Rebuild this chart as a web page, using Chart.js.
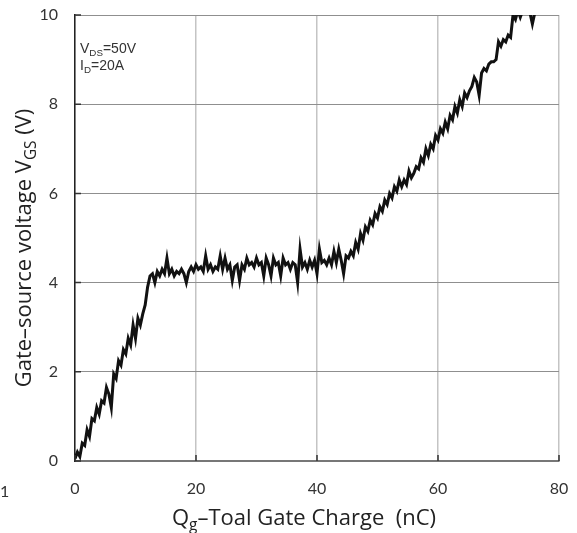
<!DOCTYPE html>
<html>
<head>
<meta charset="utf-8">
<script src="https://cdn.jsdelivr.net/npm/chart.js@4.4.1/dist/chart.umd.min.js"></script>
<style>
    body { margin: 0; background: #fff; }
    #wrap { width: 577px; height: 533px; }
</style>
</head>
<body>
<div id="wrap"><canvas id="chart" width="577" height="533"></canvas></div>
<script>
// gate charge (nC)
let qg = [
    0, 0.4, 0.8, 1.2, 1.6, 2.0, 2.4, 2.8, 3.2, 3.6, 4.0, 4.4, 4.8, 5.2, 5.6, 6.0, 6.4, 6.8, 7.2, 7.6,
    8.0, 8.4, 8.8, 9.2, 9.6, 10.0, 10.4, 10.8, 11.2, 11.6, 12.0, 12.4,
    12.8, 13.2, 13.6, 14.0, 14.4, 14.8, 15.2, 15.6, 16.0, 16.4, 16.8, 17.2, 17.6, 18.0, 18.4, 18.8,
    19.2, 19.6, 20.0, 20.4, 20.8, 21.2, 21.6, 22.0, 22.4, 22.8, 23.2, 23.6, 24.0, 24.4, 24.8, 25.2,
    25.6, 26.0, 26.4, 26.8, 27.2, 27.6, 28.0, 28.4, 28.8, 29.2, 29.6, 30.0, 30.4, 30.8, 31.2, 31.6,
    32.0, 32.4, 32.8, 33.2, 33.6, 34.0, 34.4, 34.8, 35.2, 35.6, 36.0, 36.4, 36.8, 37.2, 37.6, 38.0,
    38.4, 38.8, 39.2, 39.6, 40.0, 40.4, 40.8, 41.2, 41.6, 42.0, 42.4, 42.8, 43.2, 43.6, 44.0, 44.4,
    44.8, 45.2, 45.6, 46.0, 46.4, 46.8, 47.2, 47.6, 48.0, 48.4, 48.8, 49.2, 49.6, 50.0, 50.4, 50.8,
    51.2, 51.6, 52.0, 52.4, 52.8, 53.2, 53.6, 54.0, 54.4, 54.8, 55.2, 55.6, 56.0, 56.4, 56.8, 57.2,
    57.6, 58.0, 58.4, 58.8, 59.2, 59.6, 60.0, 60.4, 60.8, 61.2, 61.6, 62.0, 62.4, 62.8, 63.2, 63.6,
    64.0, 64.4, 64.8, 65.2, 65.6, 66.0, 66.4, 66.8, 67.2, 67.6, 68.0, 68.4, 68.8, 69.2, 69.6, 70.0,
    70.4, 70.8, 71.2, 71.6, 72.0, 72.4, 72.8, 73.2, 73.6, 74.0, 74.4, 74.8, 75.2, 75.6, 76.0
];
// gate-source voltage (V)
let vgs = [
    0.05, 0.2, 0.1, 0.4, 0.35, 0.7, 0.55, 0.95, 0.9, 1.2, 1.05, 1.35, 1.3, 1.65, 1.5, 1.2, 1.95, 1.85, 2.25, 2.15,
    2.5, 2.4, 2.75, 2.6, 3.05, 2.75, 3.2, 3.05, 3.3, 3.5, 3.9, 4.15,
    4.2, 4.0, 4.25, 4.15, 4.3, 4.2, 4.55, 4.2, 4.3, 4.15, 4.25, 4.2, 4.3, 4.2, 4.0, 4.25,
    4.35, 4.25, 4.4, 4.3, 4.35, 4.25, 4.6, 4.3, 4.4, 4.25, 4.35, 4.3, 4.6, 4.3, 4.55, 4.3,
    4.4, 4.05, 4.35, 4.4, 4.05, 4.4, 4.3, 4.55, 4.4, 4.45, 4.35, 4.55, 4.4, 4.45, 4.15, 4.55,
    4.4, 4.15, 4.55, 4.4, 4.45, 4.15, 4.55, 4.4, 4.45, 4.3, 4.45, 4.4, 4.0, 4.75, 4.35, 4.45,
    4.3, 4.5, 4.35, 4.5, 4.2, 4.75, 4.45, 4.5, 4.4, 4.55, 4.4, 4.7, 4.45, 4.75, 4.5, 4.2,
    4.6, 4.55, 4.7, 4.6, 4.9, 4.75, 5.1, 4.95, 5.25, 5.15, 5.4, 5.3, 5.55, 5.45, 5.7, 5.6,
    5.85, 5.75, 6.0, 5.9, 6.15, 6.05, 6.3, 6.15, 6.3, 6.2, 6.5, 6.35, 6.45, 6.6, 6.55, 6.8,
    6.7, 7.0, 6.85, 7.1, 7.0, 7.3, 7.2, 7.45, 7.35, 7.6, 7.45, 7.75, 7.65, 7.95, 7.8, 8.1,
    7.95, 8.25, 8.15, 8.3, 8.4, 8.6, 8.5, 8.2, 8.7, 8.8, 8.75, 8.9, 8.95, 8.95, 9.0, 9.4,
    9.3, 9.45, 9.4, 9.55, 9.5, 10.0, 9.9, 10.1, 9.95, 10.1, 10.05, 10.1, 10.05, 9.8, 10.05
];
let xTicks = [0, 20, 40, 60, 80];
let yTicks = [0, 2, 4, 6, 8, 10];

let points = qg.map(function(q, i) {
    return { x: q, y: vgs[i] };
});

let tickFont = { family: "Lato", size: 16 };
let titleFont = "Open Sans";
let titleSize = 22;

// width of a title made of normal and subscript pieces
let measureRich = function(ctx, parts, size, family) {
    let total = 0;
    parts.forEach(function(p) {
        ctx.font = (p.sub ? size * 0.7 : size) + "px " + family;
        total += ctx.measureText(p.t).width;
    });
    return total;
};

let drawRich = function(ctx, parts, x, y, size, family) {
    let cx = x;
    parts.forEach(function(p) {
        ctx.font = (p.sub ? size * 0.7 : size) + "px " + family;
        ctx.fillText(p.t, cx, p.sub ? y + size * 0.22 : y);
        cx += ctx.measureText(p.t).width;
    });
};

let labelsPlugin = {
    id: "labels",
    afterDraw: function(chart) {
        let ctx = chart.ctx;
        let area = chart.chartArea;
        let xs = chart.scales.x, ys = chart.scales.y;
        ctx.save();

        // short inner tick marks
        ctx.strokeStyle = "#333";
        ctx.lineWidth = 1.5;
        ctx.beginPath();
        yTicks.forEach(function(v) {
            let py = ys.getPixelForValue(v);
            ctx.moveTo(area.left, py);
            ctx.lineTo(area.left + 6, py);
        });
        xTicks.forEach(function(v) {
            let px = xs.getPixelForValue(v);
            ctx.moveTo(px, area.bottom);
            ctx.lineTo(px, area.bottom - 6);
        });
        ctx.stroke();

        ctx.fillStyle = "#222";
        ctx.textBaseline = "alphabetic";
        ctx.textAlign = "left";

        // x title
        let xParts = [{ t: "Q" }, { t: "g", sub: true }, { t: "\u2013Toal Gate Charge  (nC)" }];
        let w = measureRich(ctx, xParts, titleSize, titleFont);
        drawRich(ctx, xParts, 304 - w / 2, 525, titleSize, titleFont);

        // y title
        let yParts = [{ t: "Gate\u2013source voltage V" }, { t: "GS", sub: true }, { t: " (V)" }];
        let h = measureRich(ctx, yParts, titleSize, titleFont);
        ctx.translate(31, 248);
        ctx.rotate(-Math.PI / 2);
        drawRich(ctx, yParts, -h / 2, 0, titleSize, titleFont);
        ctx.setTransform(1, 0, 0, 1, 0, 0);

        // conditions
        ctx.fillStyle = "#333";
        drawRich(ctx, [{ t: "V" }, { t: "DS", sub: true }, { t: "=50V" }], 80, 53, 14, "Liberation Sans");
        drawRich(ctx, [{ t: "I" }, { t: "D", sub: true }, { t: "=20A" }], 80, 70, 14, "Liberation Sans");

        ctx.font = "16px Lato";
        ctx.fillStyle = "#333";
        ctx.fillText("1", 0, 497);
        ctx.restore();
    }
};

new Chart(document.querySelector("#chart").getContext("2d"), {
    type: "scatter",
    data: {
        datasets: [{
            data: points,
            showLine: true,
            borderColor: "#111",
            borderWidth: 3,
            pointRadius: 0,
            tension: 0
        }]
    },
    options: {
        responsive: false,
        animation: false,
        layout: { padding: { top: 15, right: 18, left: 0, bottom: 0 } },
        plugins: {
            legend: { display: false },
            tooltip: { enabled: false }
        },
        scales: {
            x: {
                type: "linear",
                min: 0,
                max: 80,
                afterBuildTicks: function(scale) {
                    scale.ticks = xTicks.map(function(v) { return { value: v }; });
                },
                afterFit: function(scale) {
                    scale.height = 72;
                    scale.paddingLeft = 0;
                    scale.paddingRight = 0;
                },
                grid: { color: "#c4c4c4", lineWidth: 1.5, drawTicks: false },
                border: { color: "#777", width: 2 },
                ticks: { font: tickFont, color: "#333", padding: 18, maxRotation: 0 }
            },
            y: {
                min: 0,
                max: 10,
                afterBuildTicks: function(scale) {
                    scale.ticks = yTicks.map(function(v) { return { value: v }; });
                },
                afterFit: function(scale) {
                    scale.width = 75;
                    scale.paddingTop = 0;
                    scale.paddingBottom = 0;
                },
                grid: { color: "#8f8f8f", lineWidth: 1, drawTicks: false },
                border: { color: "#222", width: 1.5 },
                ticks: { font: tickFont, color: "#333", padding: 17 }
            }
        }
    },
    plugins: [labelsPlugin]
});
</script>
</body>
</html>
